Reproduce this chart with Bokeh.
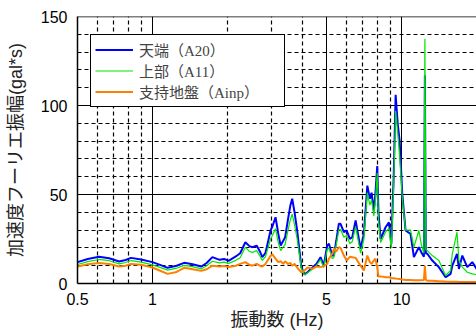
from bokeh.plotting import figure
from bokeh.models import Range1d, FixedTicker, Span, CustomJSTickFormatter
from bokeh.embed import file_html
from bokeh.resources import INLINE

# frequency (Hz)
freq = [0.50, 0.55, 0.61, 0.67, 0.735, 0.78, 0.82, 0.90, 1.00, 1.08, 1.15, 1.25, 1.34, 1.45,
        1.57, 1.65, 1.74, 1.86, 1.94, 2.02, 2.16, 2.25, 2.36, 2.45, 2.52, 2.62, 2.70, 2.76,
        2.84, 2.98, 3.03, 3.12, 3.20, 3.27, 3.35, 3.41, 3.50, 3.58, 3.64, 3.72, 3.81, 3.96,
        4.08, 4.20, 4.38, 4.55, 4.73, 4.87, 5.03, 5.11, 5.27, 5.35, 5.47, 5.60, 5.69, 5.87,
        6.02, 6.20, 6.34, 6.54, 6.85, 7.06, 7.29, 7.46, 7.58, 7.74, 7.85, 7.99, 8.08, 8.24,
        8.63, 8.90, 9.10, 9.30, 9.47, 9.65, 9.83, 10.07, 10.38, 10.87, 11.21, 11.74, 12.00,
        12.30, 12.41, 12.52, 12.69, 13.29, 14.12, 15.03, 15.74, 15.99, 16.70, 17.00, 17.54,
        18.37, 19.24, 20.02]

# 天端 (A20)
tenbata = [12.0, 13.8, 15.0, 14.2, 12.4, 13.2, 14.4, 13.5, 12.0, 10.3, 8.8, 10.0, 11.6, 10.8,
           9.5, 11.5, 14.8, 13.3, 13.8, 12.7, 15.2, 17.0, 23.2, 21.0, 20.4, 21.3, 18.0, 14.8,
           17.0, 29.8, 32.0, 37.2, 28.0, 21.3, 24.0, 26.0, 36.0, 44.0, 47.6, 40.0, 29.8, 9.2,
           5.1, 6.5, 8.8, 11.0, 14.8, 10.0, 21.3, 22.3, 15.7, 15.7, 24.0, 33.5, 33.5, 28.8,
           29.8, 25.1, 26.0, 35.4, 19.5, 27.9, 55.0, 47.6, 51.0, 41.0, 50.0, 66.0, 40.0, 25.0,
           31.6, 34.4, 22.3, 60.0, 106.0, 90.0, 80.0, 50.4, 29.8, 27.9, 14.8, 20.4, 17.6,
           15.0, 117.0, 17.0, 16.7, 12.9, 9.2, 3.5, 5.4, 10.0, 16.7, 8.2, 15.7,
           9.2, 12.0, 8.2]

# 上部 (A11)
jobu = [10.7, 12.3, 13.5, 12.8, 11.0, 11.8, 12.9, 12.0, 10.5, 8.9, 7.5, 8.6, 10.2, 9.5,
        8.2, 10.0, 12.5, 11.6, 12.0, 11.2, 13.0, 14.5, 20.4, 18.0, 17.5, 18.5, 15.5, 13.0,
        15.0, 25.0, 27.0, 30.7, 23.0, 18.5, 20.5, 22.0, 30.0, 36.0, 39.0, 33.0, 25.0, 8.5,
        4.8, 6.0, 8.0, 10.0, 13.5, 9.0, 19.0, 20.0, 14.0, 14.5, 22.0, 30.0, 30.5, 26.0,
        27.0, 22.5, 23.5, 32.0, 17.0, 25.0, 51.0, 44.0, 47.0, 38.0, 46.0, 62.0, 36.0, 23.0,
        29.0, 31.0, 20.0, 55.0, 97.0, 85.0, 71.0, 48.0, 30.0, 30.0, 20.4, 29.8, 22.0,
        17.0, 137.5, 19.0, 18.5, 15.7, 12.9, 4.5, 7.3, 16.7, 28.8, 12.9, 9.2,
        6.3, 5.4, 5.0]

# 支持地盤 (Ainp)
shiji = [9.5, 10.8, 11.5, 11.0, 9.5, 10.0, 11.0, 10.5, 9.0, 7.0, 5.4, 6.5, 8.8, 8.0,
         7.1, 8.0, 10.0, 9.5, 9.8, 9.3, 10.0, 11.0, 12.0, 10.5, 10.0, 11.0, 10.0, 9.5,
         11.0, 15.5, 16.3, 14.0, 12.0, 12.5, 11.0, 12.5, 11.0, 11.5, 10.0, 11.0, 9.0, 6.3,
         7.3, 9.0, 8.2, 9.5, 9.2, 9.7, 11.0, 13.9, 16.7, 19.5, 18.0, 20.4, 20.0, 15.7,
         12.9, 15.0, 14.8, 14.4, 10.0, 7.3, 15.7, 12.0, 11.0, 12.9, 13.9, 9.2, 4.0, 4.0,
         3.5, 3.5, 3.0, 3.0, 2.8, 2.6, 2.5, 2.2, 2.0, 2.0, 1.8, 1.8, 1.8,
         2.0, 10.0, 2.0, 1.6, 1.5, 1.3, 1.1, 1.0, 1.0, 1.0, 0.9, 0.9,
         0.8, 0.8, 0.8]

x_ticks = [0.5, 1, 5, 10]
x_minor = [0.6, 0.7, 0.8, 0.9, 2, 3, 4, 6, 7, 8, 9]
y_ticks = [0, 50, 100, 150]
y_minor = [10, 20, 30, 40, 60, 70, 80, 90, 110, 120, 130, 140]

series_labels = ["天端（A20）", "上部（A11）", "支持地盤（Ainp）"]

p = figure(width=476, height=336, x_axis_type="log",
           x_range=Range1d(0.5, 20.0), y_range=Range1d(0, 150),
           output_backend="svg", toolbar_location=None,
           min_border_left=77, min_border_right=0, min_border_top=16, min_border_bottom=53)

p.background_fill_color = "white"
p.border_fill_color = "white"
p.outline_line_color = None

xt = FixedTicker(ticks=x_ticks, minor_ticks=x_minor)
yt = FixedTicker(ticks=y_ticks, minor_ticks=y_minor)
p.xaxis.ticker = xt
p.yaxis.ticker = yt
p.xgrid.ticker = xt
p.ygrid.ticker = yt
p.xaxis.formatter = CustomJSTickFormatter(code="return tick.toString();")

for g in (p.xgrid[0], p.ygrid[0]):
    g.grid_line_color = "black"
    g.grid_line_width = 1
    g.grid_line_alpha = 1
    g.minor_grid_line_color = "black"
    g.minor_grid_line_width = 1.2
    g.minor_grid_line_dash = "4 3"

for ax in (p.xaxis[0], p.yaxis[0]):
    ax.axis_line_color = "black"
    ax.axis_line_width = 1.5
    ax.major_tick_line_color = None
    ax.minor_tick_line_color = None
    ax.major_label_text_font = "Liberation Sans"
    ax.major_label_text_font_size = "16px"
    ax.major_label_text_color = "black"
    ax.axis_label_text_font = "Liberation Sans, Noto Sans CJK JP"
    ax.axis_label_text_font_size = "18px"
    ax.axis_label_text_font_style = "normal"
    ax.axis_label_text_color = "#222222"

p.xaxis.major_label_standoff = 3
p.xaxis.axis_label_standoff = 2
p.yaxis.major_label_standoff = 4
p.yaxis.axis_label_standoff = 12
p.xaxis.axis_label = "振動数 (Hz)"
p.yaxis.axis_label = "加速度フーリエ振幅(gal*s)"

p.add_layout(Span(location=150, dimension="width", line_color="black", line_width=1.5))

p.line(freq, tenbata, line_color="#0000FF", line_width=2, legend_label=series_labels[0])
p.line(freq, jobu, line_color="#00E600", line_width=1.2, legend_label=series_labels[1])
p.line(freq, shiji, line_color="#FF8000", line_width=2, legend_label=series_labels[2])

lg = p.legend[0]
lg.location = (13, 176)
lg.margin = 0
lg.padding = 4
lg.spacing = 0
lg.label_height = 19
lg.glyph_height = 19
lg.glyph_width = 38
lg.label_width = 141
lg.label_standoff = 6
lg.label_text_font = "Liberation Serif, Noto Sans CJK JP"
lg.label_text_font_size = "15px"
lg.label_text_color = "#444444"
lg.border_line_color = "black"
lg.border_line_width = 1.5
lg.border_line_alpha = 1
lg.background_fill_alpha = 1

open("out.html", "w").write(file_html(p, INLINE))
